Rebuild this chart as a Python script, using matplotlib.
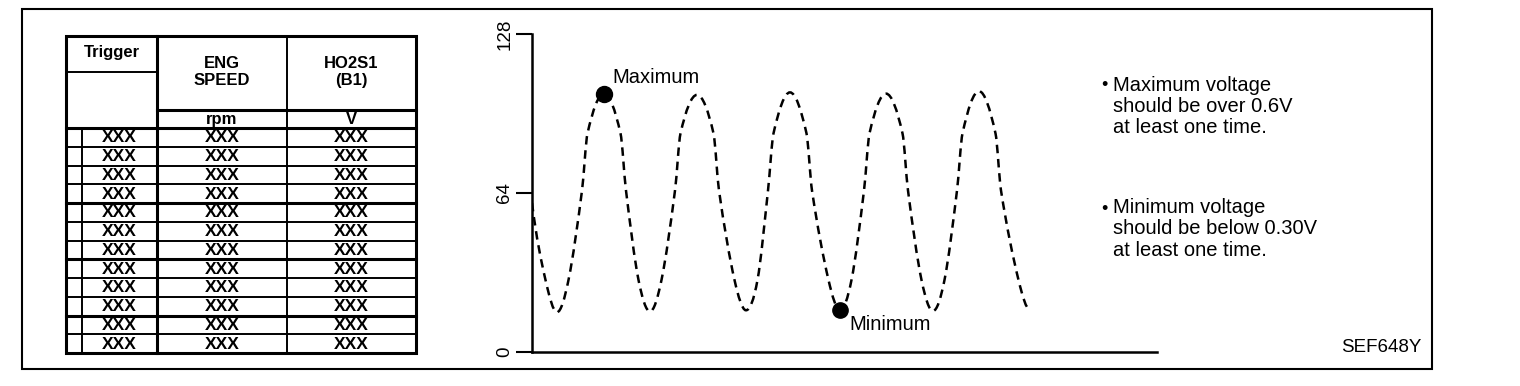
"""
HO2S1 (B1) monitor screen: data table + voltage waveform
"""

import numpy as np
import matplotlib
matplotlib.use('Agg')
import matplotlib.pyplot as plt
from matplotlib.path import Path
from matplotlib.patches import PathPatch, Rectangle

plt.rcParams['font.family'] = ['Liberation Sans', 'DejaVu Sans']

# --- data -------------------------------------------------------------
table_headers = ["Trigger", "ENG\nSPEED", "HO2S1\n(B1)"]
table_units = ["", "rpm", "V"]
table_rows = [["XXX", "XXX", "XXX"] for _ in range(12)]

# waveform points (time units along the axis, value 0-128)
wave_t = [0, 2.7, 5,
          7.3, 10.0, 11.1, 14.4, 17.7, 18.8, 21.3, 23.6,
          25.9, 28.6, 29.7, 33.0, 36.3, 37.4, 40.5, 42.8,
          45.1, 47.2, 48.3, 51.6, 54.9, 56.0, 59.3, 61.6,
          63.9, 66.4, 67.5, 70.8, 74.1, 75.2, 77.9, 80.2,
          82.5, 85.0, 86.1, 89.4, 92.7, 93.8, 97.3, 99.6]
wave_v = [60, 29, 16,
          29, 65, 88, 104, 88, 65, 29, 16.3,
          29, 65, 88, 103.5, 88, 65, 29, 16.8,
          29, 65, 88, 104.5, 88, 65, 29, 16.8,
          29, 65, 88, 104, 88, 65, 29, 16.5,
          29, 65, 88, 105, 88, 65, 29, 17]
max_idx = 6     # first peak
min_idx = 26    # fourth trough

y_ticks = [0, 64, 128]

notes = [
    "Maximum voltage\nshould be over 0.6V\nat least one time.",
    "Minimum voltage\nshould be below 0.30V\nat least one time.",
]
fig_code = "SEF648Y"


def smooth_path(xs, ys):
    """Cubic hermite through the points (flat at extrema) as bezier segments"""
    x = np.asarray(xs, float)
    y = np.asarray(ys, float)
    h = np.diff(x)
    d = np.diff(y) / h
    m = np.zeros_like(x)
    for k in range(1, len(x) - 1):
        if d[k - 1] * d[k] > 0:
            m[k] = (y[k + 1] - y[k - 1]) / (x[k + 1] - x[k - 1])
    m[0] = d[0] * 1.4
    m[-1] = 0
    verts = [(x[0], y[0])]
    codes = [Path.MOVETO]
    for k in range(len(x) - 1):
        verts += [(x[k] + h[k] / 3, y[k] + m[k] * h[k] / 3),
                  (x[k + 1] - h[k] / 3, y[k + 1] - m[k + 1] * h[k] / 3),
                  (x[k + 1], y[k + 1])]
        codes += [Path.CURVE4] * 3
    return Path(verts, codes)


fig = plt.figure(figsize=(15.2, 3.86), dpi=100)

# overlay in pixel coords for frame + table + notes
bg = fig.add_axes([0, 0, 1, 1], zorder=0)
bg.set_xlim(0, 1520)
bg.set_ylim(386, 0)
bg.axis('off')

bg.add_patch(Rectangle((22, 9), 1410, 360, fill=False, lw=1.5, ec='black'))

# table geometry
t_left, t_right, t_top, t_bot = 66, 416, 36, 353
col_x = [66, 157, 287, 416]
sub_x = 82
head_y, unit_y = 110, 128
row_h = (t_bot - unit_y) / len(table_rows)
thick = 2.2
thin = 1.4

bg.add_patch(Rectangle((t_left, t_top), t_right - t_left, t_bot - t_top,
                       fill=False, lw=thick, ec='black'))
bg.plot([col_x[1], col_x[1]], [t_top, t_bot], color='black', lw=thick)
bg.plot([col_x[2], col_x[2]], [t_top, t_bot], color='black', lw=thin)
bg.plot([sub_x, sub_x], [unit_y, t_bot], color='black', lw=thin)
bg.plot([t_left, col_x[1]], [72, 72], color='black', lw=thin)
bg.plot([col_x[1], t_right], [head_y, head_y], color='black', lw=thick)
bg.plot([t_left, t_right], [unit_y, unit_y], color='black', lw=thick)
for k in range(1, len(table_rows)):
    y = unit_y + k * row_h
    bg.plot([t_left, t_right], [y, y], color='black',
            lw=thick if k in (4, 7, 10) else thin)

bg.text((col_x[0] + col_x[1]) / 2, 53, table_headers[0], ha='center', va='center',
        fontsize=12, fontweight='bold')
for j in (1, 2):
    cx = (col_x[j] + col_x[j + 1]) / 2
    bg.text(cx, 72, table_headers[j], ha='center', va='center',
            fontsize=12, fontweight='bold', linespacing=1.15)
    bg.text(cx, (head_y + unit_y) / 2 + 0.5, table_units[j], ha='center', va='center',
            fontsize=12, fontweight='bold')

cell_x = [(sub_x + col_x[1]) / 2, (col_x[1] + col_x[2]) / 2, (col_x[2] + col_x[3]) / 2]
for i, row in enumerate(table_rows):
    cy = unit_y + (i + 0.5) * row_h + 0.5
    for cx, val in zip(cell_x, row):
        bg.text(cx, cy, val, ha='center', va='center', fontsize=12.5, fontweight='bold')

# notes on the right
for note, y_bul, y_mid in zip(notes, [86, 209], [106.5, 229]):
    bg.text(1104, y_bul, "\u2022", ha='center', va='center', fontsize=13)
    bg.text(1113, y_mid, note, ha='left', va='center', fontsize=14.5, linespacing=1.15)

bg.text(1421, 348, fig_code, ha='right', va='center', fontsize=13.5)

# --- waveform axes ----------------------------------------------------
ax = fig.add_axes([532 / 1520, 34 / 386, 625 / 1520, 318 / 386], zorder=1)
ax.set_facecolor('none')
ax.set_xlim(0, 125)
ax.set_ylim(0, 128)
for side in ('top', 'right'):
    ax.spines[side].set_visible(False)
for side in ('left', 'bottom'):
    ax.spines[side].set_linewidth(1.8)
ax.set_xticks([])
ax.set_yticks(y_ticks)
ax.set_yticklabels([str(v) for v in y_ticks])
ax.tick_params(axis='y', length=11.5, width=1.5, pad=2, labelsize=13.5,
               labelrotation=90)
for lbl in ax.get_yticklabels():
    lbl.set_va('center')

ax.add_patch(PathPatch(smooth_path(wave_t, wave_v), fill=False, ec='black',
                       lw=1.8, linestyle=(0, (3.4, 2.3)), capstyle='butt'))

ax.plot(wave_t[max_idx], wave_v[max_idx], 'o', ms=11.5, color='black', clip_on=False)
ax.plot(wave_t[min_idx], wave_v[min_idx], 'o', ms=11, color='black', clip_on=False)
ax.annotate("Maximum", xy=(wave_t[max_idx], wave_v[max_idx]), xytext=(6, 11.5),
            textcoords='offset points', ha='left', va='center', fontsize=14.5)
ax.annotate("Minimum", xy=(wave_t[min_idx], wave_v[min_idx]), xytext=(7, -10.5),
            textcoords='offset points', ha='left', va='center', fontsize=14.5)

fig.savefig('out.png', dpi=100)
plt.close(fig)
